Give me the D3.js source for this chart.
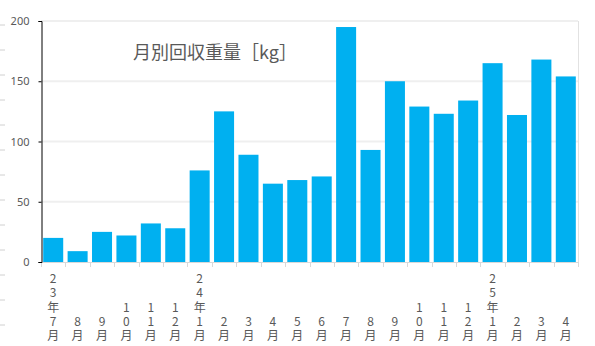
<!DOCTYPE html>
<html>
<head>
<meta charset="utf-8">
<script src="https://cdn.jsdelivr.net/npm/d3@7"></script>
<style>
  html, body { margin: 0; padding: 0; background: #fff; }
  svg { display: block; }
  text { font-family: "Noto Sans CJK JP", "Noto Sans", sans-serif; }
</style>
</head>
<body>
<svg id="chart" width="595" height="346"></svg>
<script>
// Monthly collected weight (kg)
const months = ["23年7月", "8月", "9月", "10月", "11月", "12月",
  "24年1月", "2月", "3月", "4月", "5月", "6月", "7月", "8月", "9月", "10月", "11月", "12月",
  "25年1月", "2月", "3月", "4月"];
const weights = [20, 9, 25, 22, 32, 28, 76, 125, 89, 65, 68, 71, 195, 93, 150, 129, 123, 134, 165, 122, 168, 154];
const yTicks = [0, 50, 100, 150, 200];
const title = "月別回収重量［kg］";

const svg = d3.select("#chart");
const plotL = 41, plotR = 578, plotT = 21, plotB = 262;
const grey = "#595959";

// faint row marks along the left edge
svg.append("g").selectAll("line")
  .data(d3.range(25, 346, 25))
  .join("line")
  .attr("x1", 0).attr("x2", 5)
  .attr("y1", d => d).attr("y2", d => d)
  .attr("stroke", "#d0d0d0").attr("stroke-width", 1);

const x = d3.scaleBand()
  .domain(d3.range(months.length))
  .range([plotL, plotR])
  .paddingInner(0.18)
  .paddingOuter(0.09);

const y = d3.scaleLinear().domain([0, 200]).range([plotB, plotT]);

// gridlines
svg.append("g").selectAll("line")
  .data(yTicks.filter(d => d > 0))
  .join("line")
  .attr("x1", plotL).attr("x2", plotR)
  .attr("y1", d => y(d)).attr("y2", d => y(d))
  .attr("stroke", "#efefef").attr("stroke-width", 2);

// right frame edge
svg.append("line")
  .attr("x1", plotR + 0.5).attr("x2", plotR + 0.5)
  .attr("y1", plotT).attr("y2", plotB)
  .attr("stroke", "#e2e2e2");

// bars
svg.append("g").selectAll("rect")
  .data(weights)
  .join("rect")
  .attr("x", (d, i) => x(i))
  .attr("width", x.bandwidth())
  .attr("y", d => y(d))
  .attr("height", d => y(0) - y(d))
  .attr("fill", "#00B0F0");

// x baseline and category separators
const step = x.step();
svg.append("line")
  .attr("x1", plotL).attr("x2", plotR)
  .attr("y1", plotB + 0.5).attr("y2", plotB + 0.5)
  .attr("stroke", "#d9d9d9");
svg.append("g").selectAll("line")
  .data(d3.range(months.length + 1))
  .join("line")
  .attr("x1", i => Math.round(plotL + i * step) + 0.5)
  .attr("x2", i => Math.round(plotL + i * step) + 0.5)
  .attr("y1", plotB).attr("y2", plotB + 5)
  .attr("stroke", "#d9d9d9");

// y axis
const yAxis = d3.axisLeft(y).tickValues(yTicks).tickSize(3).tickPadding(9);
const ya = svg.append("g").attr("transform", `translate(${plotL + 0.5},0)`).call(yAxis);
ya.select(".domain").attr("stroke", "#000");
ya.selectAll(".tick line").attr("stroke", "#000");
ya.selectAll(".tick text")
  .attr("fill", grey)
  .style("font-size", "11px")
  .style("font-family", "'Noto Sans', sans-serif");

// x labels: set vertically, one upright character per line, ending at the bottom
const labelBottom = 344;
svg.append("g").selectAll("text")
  .data(months)
  .join("text")
  .attr("x", (d, i) => x(i) + x.bandwidth() / 2)
  .attr("y", labelBottom)
  .attr("text-anchor", "end")
  .attr("fill", grey)
  .style("font-size", "12px")
  .style("writing-mode", "vertical-rl")
  .style("text-orientation", "upright")
  .style("letter-spacing", "2.3px")
  .text(d => d);

// title
svg.append("text")
  .attr("x", 215)
  .attr("y", 59)
  .attr("text-anchor", "middle")
  .attr("fill", grey)
  .style("font-size", "18px")
  .text(title);
</script>
</body>
</html>
